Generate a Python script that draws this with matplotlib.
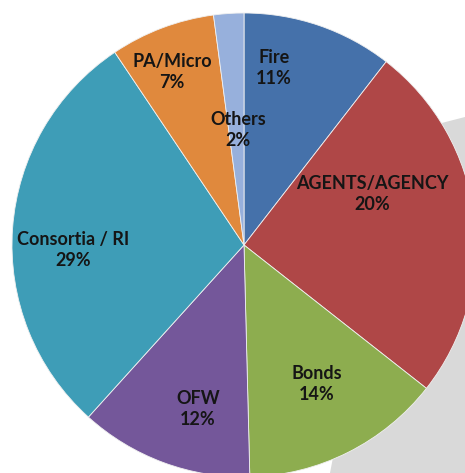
import matplotlib
matplotlib.use("Agg")
import matplotlib.pyplot as plt
from matplotlib.patches import Polygon

# ---- data ----
categories = ["Fire", "AGENTS/AGENCY", "Bonds", "OFW", "Consortia / RI", "PA/Micro", "Others"]
pct_labels = ["11%", "20%", "14%", "12%", "29%", "7%", "2%"]          # printed on the chart
shares = [10.5, 25.1, 14.0, 12.1, 28.9, 7.3, 2.1]                     # slice sizes as drawn

colors = ["#4571AA", "#AF4747", "#8DAD4F", "#74579A", "#3E9DB7", "#E0893D", "#97B0DC"]

# ---- layout (pixels) ----
W, H = 465, 473
CX, CY, R = 244, 245, 232
label_px = [(274, 68), (372, 194), (317, 384), (198, 409), (73, 250), (172, 72), (238, 130)]

plt.rcParams["font.family"] = ["Lato", "DejaVu Sans"]
fig = plt.figure(figsize=(W / 100, H / 100), dpi=100)
fig.patch.set_facecolor("white")

ax = fig.add_axes([0, 0, 1, 1])
ax.patch.set_alpha(0)

# grey card behind the pie (decoration)
grey = Polygon([(395 / W, 1 - 135 / H), (1.0, 1 - 117 / H), (1.0, 0.0), (330 / W, 0.0)],
               closed=True, transform=fig.transFigure, facecolor="#D9D9D9",
               edgecolor="none", zorder=0)
ax.add_artist(grey)

ax.pie(shares, colors=colors, startangle=90, counterclock=False,
       wedgeprops=dict(edgecolor="#f0f0f0", linewidth=0.6, zorder=2), radius=1.0)
ax.set_xlim(-CX / R, (W - CX) / R)
ax.set_ylim(-(H - CY) / R, CY / R)
ax.set_aspect("equal")
ax.axis("off")

for name, pct, (px, py) in zip(categories, pct_labels, label_px):
    x = (px - CX) / R
    y = (CY - py) / R
    ax.text(x, y, f"{name}\n{pct}", ha="center", va="center", fontsize=13,
            fontweight="bold", color="#151515", linespacing=1.35, zorder=5)

fig.savefig("out.png", dpi=100, facecolor="white")
